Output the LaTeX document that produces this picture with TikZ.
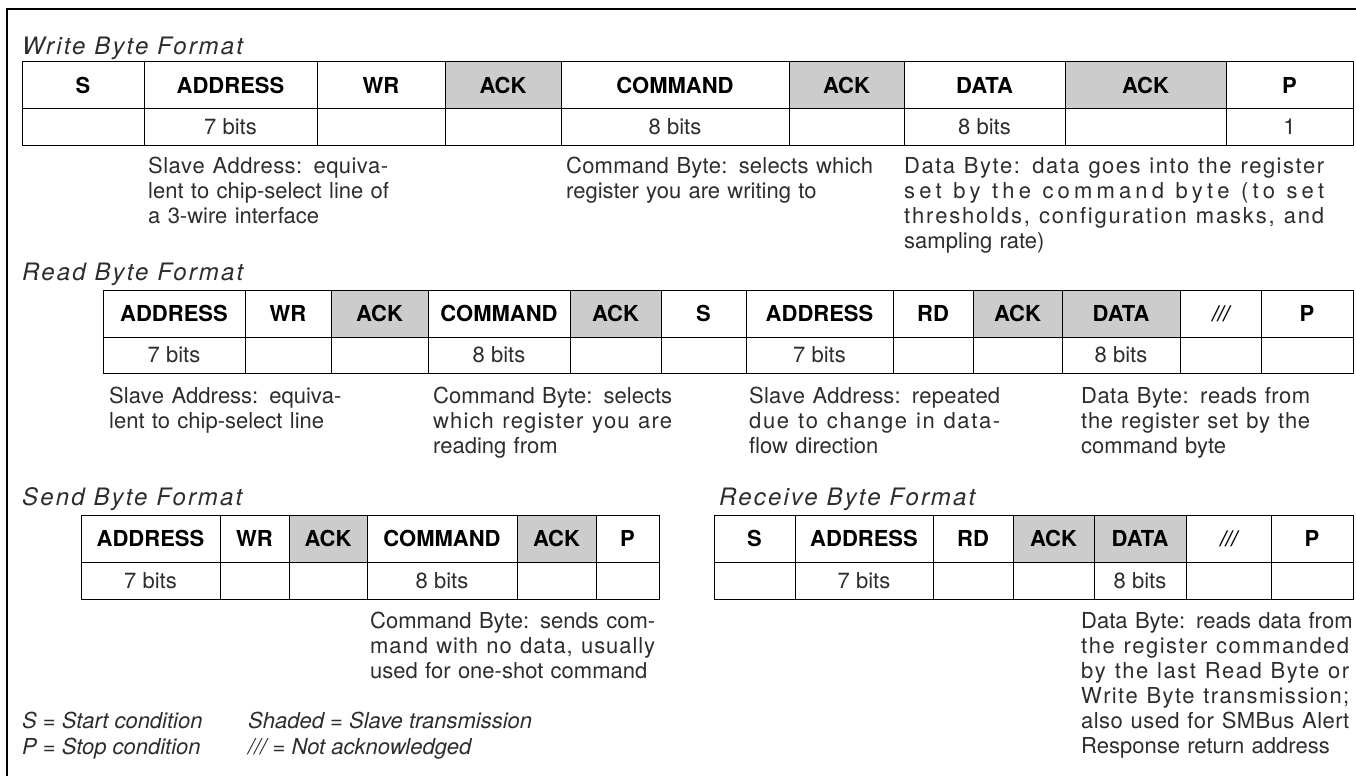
\documentclass[tikz,border=0pt]{standalone}
\usepackage{fontspec}
\setmainfont{TeX Gyre Heros}
\newfontfamily\titlefont[LetterSpace=9]{TeX Gyre Heros}
\definecolor{shade}{RGB}{204,204,204}
\definecolor{ink}{RGB}{45,45,45}
\newcommand\nack{\textit{///}}
\newcommand\nackb{{\bfseries\itshape /\kern-0.5pt/\kern-0.5pt/}}
\newlength\dw
\ExplSyntaxOn
\NewDocumentCommand \tk { m }
  {
    \seq_set_split:Nnn \l_tmpa_seq { ~ } { #1 }
    \seq_map_inline:Nn \l_tmpa_seq
      {
        \tl_map_inline:nn { ##1 } { ####1 \hskip 0pt plus 1fil \scan_stop: }
        \c_space_tl
      }
    \unskip \unskip
  }
\ExplSyntaxOff
\newcommand\jl[1]{\leavevmode\hbox to \dw{\tk{#1}}}
\newcommand\bytetable[5]{%
  \foreach \xa/\xb/\lab/\bits/\sh [count=\i] in {#5} {%
    \pgfmathsetmacro\cx{(\xa+\xb)/2}%
    \pgfmathsetmacro\cw{\xb-\xa}%
    \node[hcell, fill=\sh, minimum width=\cw pt, minimum height=#3pt-#2pt] (#1h\i) at (\cx,{(#2+#3)/2}) {\lab};
    \node[bcell, minimum width=\cw pt, minimum height=#4pt-#3pt] (#1b\i) at (\cx,{(#3+#4)/2}) {\bits};
  }%
}
\begin{document}
\begin{tikzpicture}[x=1pt,y=-1pt,
  hcell/.style={draw=black, line width=1pt, inner sep=0pt, text=black,
    font=\fontsize{22}{25}\selectfont\bfseries},
  bcell/.style={draw=black, line width=1pt, inner sep=0pt, fill=white, text=ink,
    font=\fontsize{22}{25}\selectfont},
  title/.style={anchor=base west, inner sep=0pt, text=ink,
    font=\titlefont\fontsize{24}{26}\selectfont\itshape},
  desc/.style={anchor=north west, inner sep=0pt, align=left, text=ink,
    font=\fontsize{22}{25}\selectfont},
  legend/.style={anchor=base west, inner sep=0pt, text=ink,
    font=\fontsize{22}{25}\selectfont\itshape},
  frame/.style={line width=2.5pt, line join=miter}
]
\useasboundingbox (0,0) rectangle (1356,776);
\fill[white] (0,0) rectangle (1356,776);
\coordinate (fb) at (7,776);
\coordinate (fc) at (7,9);
\coordinate (fr) at (1356,9);
\draw[frame] (fb) -- (fc) -- (fr);

% ---------------- Write Byte Format
\node[title] (tw) at (22,55) {Write Byte Format};
\bytetable{W}{62}{108}{145}{22/144/S/{}/white, 144/317/ADDRESS/7 bits/white, 317/445/WR/{}/white, 445/561/ACK/{}/shade, 561/789/COMMAND/8 bits/white, 789/904/ACK/{}/shade, 904/1065/DATA/8 bits/white, 1065/1226/ACK/{}/shade, 1226/1353/P/1/white}
\node[desc, text width=240pt] (wd1) at (148,157) {\setlength\dw{240pt}\jl{Slave Address: equiva-}\\ \jl{lent to chip-select line of}\\ a 3-wire interface};
\node[desc, text width=307pt] (wd2) at (566,157) {\setlength\dw{307pt}\jl{Command Byte: selects which}\\ register you are writing to};
\node[desc, text width=420pt] (wd3) at (904,157) {\setlength\dw{420pt}\jl{Data Byte: data goes into the register}\\ \jl{set by the command byte (to set}\\ \jl{thresholds, configuration masks, and}\\ sampling rate)};

% ---------------- Read Byte Format
\node[title] (tr) at (22,280) {Read Byte Format};
\bytetable{R}{290}{337}{373}{103/245/ADDRESS/7 bits/white, 245/331/WR/{}/white, 331/428/ACK/{}/shade, 428/570/COMMAND/8 bits/white, 570/661/ACK/{}/shade, 661/746/S/{}/white, 746/893/ADDRESS/7 bits/white, 893/973/RD/{}/white, 973/1062/ACK/{}/shade, 1062/1180/DATA/8 bits/shade, 1180/1261/\nackb/{}/white, 1261/1353/P/{}/white}
\node[desc, text width=232pt] (rd1) at (109,387) {\setlength\dw{232pt}\jl{Slave Address: equiva-}\\ lent to chip-select line};
\node[desc, text width=239pt] (rd2) at (433,387) {\setlength\dw{239pt}\jl{Command Byte: selects}\\ \jl{which register you are}\\ reading from};
\node[desc, text width=251pt] (rd3) at (749,387) {\setlength\dw{251pt}\jl{Slave Address: repeated}\\ \jl{due to change in data-}\\ flow direction};
\node[desc, text width=229pt] (rd4) at (1081,387) {\setlength\dw{229pt}\jl{Data Byte: reads from}\\ \jl{the register set by the}\\ command byte};

% ---------------- Send Byte Format
\node[title] (ts) at (22,505) {Send Byte Format};
\bytetable{S}{515}{562}{599}{81/220/ADDRESS/7 bits/white, 220/289/WR/{}/white, 289/367/ACK/{}/shade, 367/517/COMMAND/8 bits/white, 517/596/ACK/{}/shade, 596/659/P/{}/white}
\node[desc, text width=285pt] (sd1) at (370,612) {\setlength\dw{285pt}\jl{Command Byte: sends com-}\\ \jl{mand with no data, usually}\\ used for one-shot command};

% ---------------- Receive Byte Format
\node[title] (tv) at (719,505) {Receive Byte Format};
\bytetable{V}{515}{562}{599}{714/795/S/{}/white, 795/933/ADDRESS/7 bits/white, 933/1013/RD/{}/white, 1013/1094/ACK/{}/shade, 1094/1186/DATA/8 bits/shade, 1186/1271/\nackb/{}/white, 1271/1353/P/{}/white}
\node[desc, text width=268pt] (vd1) at (1081,612) {\setlength\dw{268pt}\jl{Data Byte: reads data from}\\ \jl{the register commanded}\\ \jl{by the last Read Byte or}\\ \jl{Write Byte transmission;}\\ \jl{also used for SMBus Alert}\\ Response return address};

% ---------------- Legend
\node[legend] (l1) at (22,728) {S = Start condition};
\node[legend] (l2) at (248,728) {Shaded = Slave transmission};
\node[legend] (l3) at (22,754) {P = Stop condition};
\node[legend] (l4) at (248,754) {\nack{} = Not acknowledged};
\end{tikzpicture}
\end{document}
